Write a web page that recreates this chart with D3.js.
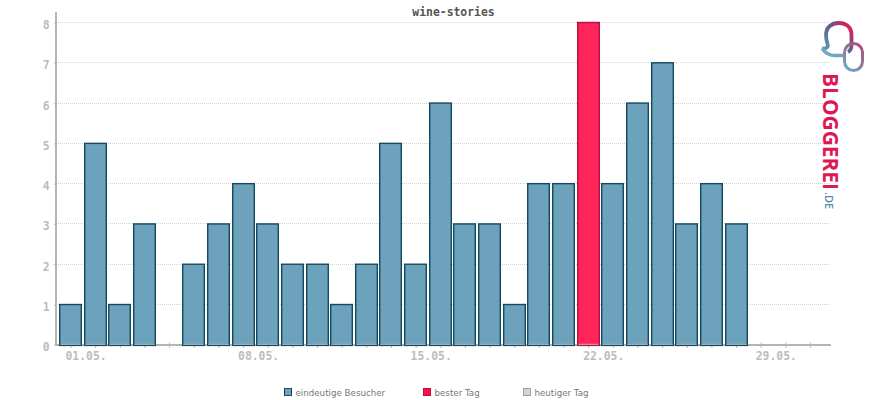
<!DOCTYPE html>
<html>
<head>
<meta charset="utf-8">
<script src="https://cdn.jsdelivr.net/npm/d3@7"></script>
<style>
  html, body { margin: 0; padding: 0; background: #fff; }
  svg { display: block; }
  text { font-family: "DejaVu Sans Mono", monospace; }
  .grid line { stroke: #d2d2d2; stroke-dasharray: 1 1; }
  .axis text { fill: #bcbcbc; font-size: 11.4px; font-weight: bold; }
  .axis .tick line { stroke: #bcbcbc; }
  .legend text { fill: #777; font-family: "DejaVu Sans", sans-serif; font-size: 8.7px; }
  .logo text { font-family: "Open Sans", sans-serif; }
</style>
</head>
<body>
<div id="chart"></div>
<script>
// visitors per day in May, index 0 = 01.05.
var visits = [1, 5, 1, 3, 0, 2, 3, 4, 3, 2, 2, 1, 2, 5, 2, 6, 3, 3, 1, 4, 4, 8, 4, 6, 7, 3, 4, 3, 0, 0, 0]
var best = 21

var outerWidth = 870, outerHeight = 400

var x = d3.scaleLinear().domain([0, 30]).range([70.5, 810])
var y = d3.scaleLinear().domain([0, 8]).range([344.8, 22.5])
var barWidth = 21.6

function crisp(v) { return Math.floor(v) + 0.5 }

var svg = d3.select("#chart")
    .append("svg")
      .attr("width", outerWidth)
      .attr("height", outerHeight)

var defs = svg.append("defs")

function gradient(id, x1, y1, x2, y2, stops) {
  var g = defs.append("linearGradient")
      .attr("id", id)
      .attr("gradientUnits", "userSpaceOnUse")
      .attr("x1", x1).attr("y1", y1).attr("x2", x2).attr("y2", y2)
  stops.forEach(function(s) {
    g.append("stop").attr("offset", s[0]).attr("stop-color", s[1])
  })
}

gradient("logoText", 0, 72, 0, 192, [[0, "#dc1a52"], [0.3, "#c92f60"], [0.55, "#9a4a78"], [0.8, "#62618e"], [1, "#4a7a9c"]])
gradient("bubble", 824, 56, 854, 28, [[0, "#6ea8c0"], [0.55, "#56658f"], [0.8, "#a03a70"], [1, "#ff0f4b"]])
gradient("ring", 845, 68, 864, 46, [[0, "#6ea8c0"], [1, "#b04a78"]])

// Horizontal grid
svg.append("g")
    .classed("grid", true)
  .selectAll("line")
  .data(d3.range(1, 9))
  .join("line")
    .attr("x1", 58)
    .attr("x2", 829)
    .attr("y1", function(d) { return crisp(y(d)) })
    .attr("y2", function(d) { return crisp(y(d)) })

// Axes
var xAxis = d3.axisBottom(x)
    .tickValues(d3.range(0, 31))
    .tickSize(3)
    .tickFormat(function(d) { return d % 7 == 0 ? d3.format("02")(d + 1) + ".05." : "" })

var yAxis = d3.axisLeft(y)
    .tickValues(d3.range(0, 9))
    .tickSize(2)
    .tickFormat(d3.format("d"))

var xG = svg.append("g")
    .classed("x axis", true)
    .attr("transform", "translate(0,345)")
    .call(xAxis)
xG.select(".domain").remove()
xG.selectAll(".tick line").attr("y1", -2.5).attr("y2", 3)
xG.selectAll(".tick text")
    .attr("text-anchor", "start")
    .attr("x", -5.5)
    .attr("y", 6.5)

var yG = svg.append("g")
    .classed("y axis", true)
    .attr("transform", "translate(56,0)")
    .call(yAxis)
yG.select(".domain").remove()
yG.selectAll(".tick text").attr("x", -6.5).attr("dy", "0.52em")

svg.append("line")
    .attr("x1", 56).attr("x2", 56)
    .attr("y1", 12).attr("y2", 346)
    .attr("stroke", "#b4b4b4").attr("stroke-width", 2)
svg.append("line")
    .attr("x1", 55).attr("x2", 831)
    .attr("y1", 345).attr("y2", 345)
    .attr("stroke", "#b4b4b4").attr("stroke-width", 2)

// Bars
var barData = visits
    .map(function(v, i) { return { day: i, value: v } })
    .filter(function(d) { return d.value > 0 })

svg.append("g")
  .selectAll("rect")
  .data(barData)
  .join("rect")
    .attr("x", function(d) { return Math.round(x(d.day) - barWidth / 2 - 0.7) + 0.7 })
    .attr("y", function(d) { return y(d.value) })
    .attr("width", barWidth)
    .attr("height", function(d) { return 345.4 - y(d.value) })
    .attr("fill", function(d) { return d.day == best ? "#ff2459" : "#6ca2bb" })
    .attr("stroke", function(d) { return d.day == best ? "#b5123f" : "#134a5f" })
    .attr("stroke-width", 1.4)

// thin rest of the axis shows through at the foot of each bar
svg.append("g")
  .selectAll("line")
  .data(barData)
  .join("line")
    .attr("x1", function(d) { return Math.round(x(d.day) - barWidth / 2 - 0.7) + 1.4 })
    .attr("x2", function(d) { return Math.round(x(d.day) - barWidth / 2 - 0.7) + 0.7 + barWidth - 0.7 })
    .attr("y1", 344.3)
    .attr("y2", 344.3)
    .attr("stroke", "#b4b4b4")
    .attr("stroke-width", 1)

// Title
svg.append("text")
    .attr("x", 453.5)
    .attr("y", 16)
    .attr("text-anchor", "middle")
    .attr("fill", "#555")
    .attr("font-size", "11.4px")
    .attr("font-weight", "bold")
    .text("wine-stories")

// Legend
var legendItems = [
  { label: "eindeutige Besucher", x: 284, fill: "#6ca2bb", stroke: "#134a5f" },
  { label: "bester Tag", x: 423, fill: "#ff0f4b", stroke: "#b5123f" },
  { label: "heutiger Tag", x: 523, fill: "#d4d4d4", stroke: "#a0a0a0" }
]
var legend = svg.append("g")
    .classed("legend", true)
  .selectAll("g")
  .data(legendItems)
  .join("g")
    .attr("transform", function(d) { return "translate(" + d.x + ",388)" })
legend.append("rect")
    .attr("x", 0.5).attr("y", 0.5)
    .attr("width", 7).attr("height", 7)
    .attr("fill", function(d) { return d.fill })
    .attr("stroke", function(d) { return d.stroke })
legend.append("text")
    .attr("x", 11.5)
    .attr("y", 7.5)
    .text(function(d) { return d.label })

// Logo
var logo = svg.append("g").classed("logo", true)

logo.append("path")
    .attr("d", "M822 48.5 Q829 49 827.5 44 Q826 39 826 35 C826 27 832 23 838.5 23 C846 23 851.5 27 851.5 35 L851.5 45 Q851.5 50 848 52")
    .attr("fill", "none")
    .attr("stroke", "url(#bubble)")
    .attr("stroke-width", 3.8)
logo.append("path")
    .attr("d", "M822 48.5 Q827 55.5 835 55.5 L845 55.5")
    .attr("fill", "none")
    .attr("stroke", "#6ea8c0")
    .attr("stroke-width", 3.4)
logo.append("rect")
    .attr("x", 844.5).attr("y", 43.5)
    .attr("width", 18).attr("height", 27)
    .attr("rx", 9)
    .attr("fill", "none")
    .attr("stroke", "url(#ring)")
    .attr("stroke-width", 3)
logo.append("text")
    .attr("transform", "translate(823,73) rotate(90)")
    .attr("fill", "url(#logoText)")
    .attr("font-size", "22px")
    .attr("font-weight", 700)
    .attr("textLength", 117)
    .attr("lengthAdjust", "spacingAndGlyphs")
    .text("BLOGGEREI")
logo.append("text")
    .attr("transform", "translate(825,192) rotate(90)")
    .attr("fill", "#4f8fb0")
    .attr("font-size", "11px")
    .attr("font-weight", 600)
    .text(".DE")
</script>
</body>
</html>
